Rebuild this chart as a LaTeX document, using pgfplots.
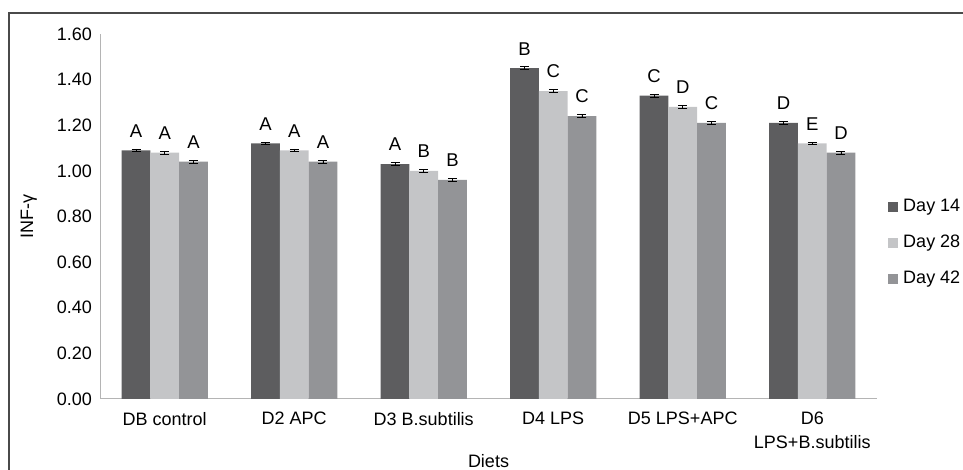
\documentclass[border=0pt]{standalone}
\usepackage{fontspec}
\setmainfont{Liberation Sans}
\usepackage{pgfplots}
\usepackage{pgfplotstable}
\pgfplotsset{compat=1.18}

\definecolor{dayA}{HTML}{5D5D5F}
\definecolor{dayB}{HTML}{C4C5C7}
\definecolor{dayC}{HTML}{939497}
\definecolor{axisgray}{HTML}{B4B4B4}
\definecolor{framegray}{HTML}{4A4A4A}

% INF-gamma by diet and day, with significance letters
\pgfplotstableread{
x  d14  l14 d28  l28 d42  l42 e
0  1.09 A   1.08 A   1.04 A   0.006
1  1.12 A   1.09 A   1.04 A   0.006
2  1.03 A   1.00 B   0.96 B   0.006
3  1.45 B   1.35 C   1.24 C   0.006
4  1.33 C   1.28 D   1.21 C   0.006
5  1.21 D   1.12 E   1.08 D   0.006
}\inftable

\pgfplotsset{
  sq legend/.style={legend image code/.code={\fill[##1] (0pt,-5pt) rectangle (10pt,5pt);}},
  errs/.style={error bars/.cd, y dir=both, y explicit,
    error bar style={black, line width=0.8pt},
    error mark options={rotate=90, black, mark size=4.5pt, line width=0.8pt}},
}

\begin{document}
\begin{tikzpicture}
\useasboundingbox (0pt,0pt) rectangle (963pt,470pt);
\draw[line width=1.2pt, framegray] (9pt,-10pt) -- (9pt,457pt) -- (980pt,457pt);
\begin{axis}[
  at={(100pt,71pt)}, anchor=south west,
  scale only axis, width=777pt, height=365pt,
  font=\fontsize{18}{23}\selectfont,
  ybar=0pt, bar width=28.7pt,
  xmin=-0.5, xmax=5.5, ymin=0, ymax=1.6,
  xtick={0,1,2,3,4,5},
  xticklabels={DB control, D2 APC, D3 B.subtilis, D4 LPS, D5 LPS+APC, {D6\\LPS+B.subtilis}},
  xticklabel style={align=center, anchor=north, inner sep=0pt, yshift=-13pt,
    font=\fontsize{18}{24}\selectfont},
  ytick={0,0.2,0.4,0.6,0.8,1.0,1.2,1.4,1.6},
  yticklabel style={/pgf/number format/.cd, fixed, fixed zerofill, precision=2, /tikz/.cd, inner sep=0pt, xshift=-8pt},
  /pgf/number format/assume math mode=true,
  major tick length=0pt,
  axis x line*=bottom, axis y line*=left,
  axis line style={draw=axisgray, line width=1pt},
  xlabel={Diets}, ylabel={INF-γ},
  xlabel style={at={(axis description cs:0.5,-0.189)}, anchor=base},
  ylabel style={at={(axis description cs:-0.0862,0.5)}, anchor=base, rotate=0},
  nodes near coords, point meta=explicit symbolic,
  nodes near coords style={anchor=south, inner sep=0pt, yshift=13pt, black,
    font=\fontsize{18.5}{22}\selectfont},
  legend style={at={(axis description cs:1.0142,0.4274)}, anchor=west, draw=none, fill=none,
    inner sep=0pt, row sep=16pt, column sep=3pt,
    nodes={inner sep=2pt, text height=13pt, text depth=3pt}},
  legend cell align=left,
  sq legend,
]
\addplot[fill=dayA, draw=none, sq legend, errs] table[x=x, y=d14, y error=e, meta=l14] {\inftable};
\addplot[fill=dayB, draw=none, sq legend, errs] table[x=x, y=d28, y error=e, meta=l28] {\inftable};
\addplot[fill=dayC, draw=none, sq legend, errs] table[x=x, y=d42, y error=e, meta=l42] {\inftable};
\legend{Day 14, Day 28, Day 42}
\end{axis}
\end{tikzpicture}
\end{document}
